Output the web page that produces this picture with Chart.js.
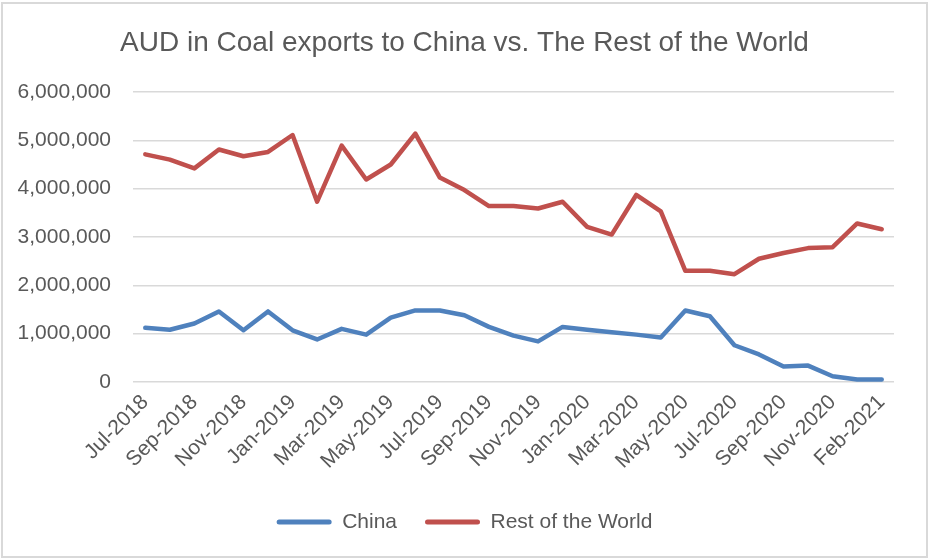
<!DOCTYPE html>
<html>
<head>
<meta charset="utf-8">
<script src="https://cdn.jsdelivr.net/npm/chart.js@4/dist/chart.umd.min.js"></script>
<style>
  html, body { margin: 0; padding: 0; background: #ffffff; }
  #wrap { width: 929px; height: 560px; position: relative; }
  canvas { display: block; }
</style>
</head>
<body>
<div id="wrap"><canvas id="c" width="929" height="560"></canvas></div>
<script>
const categories = [
  "Jul-2018","Aug-2018","Sep-2018","Oct-2018","Nov-2018","Dec-2018",
  "Jan-2019","Feb-2019","Mar-2019","Apr-2019","May-2019","Jun-2019",
  "Jul-2019","Aug-2019","Sep-2019","Oct-2019","Nov-2019","Dec-2019",
  "Jan-2020","Feb-2020","Mar-2020","Apr-2020","May-2020","Jun-2020",
  "Jul-2020","Aug-2020","Sep-2020","Oct-2020","Nov-2020","Dec-2020",
  "Feb-2021"
];
const chinaValues = [
  1120000, 1080000, 1210000, 1460000, 1070000, 1460000,
  1070000, 880000, 1100000, 980000, 1330000, 1480000,
  1480000, 1380000, 1140000, 960000, 840000, 1140000,
  1080000, 1030000, 980000, 920000, 1480000, 1360000,
  760000, 570000, 320000, 340000, 120000, 50000,
  50000
];
const restOfWorldValues = [
  4710000, 4600000, 4420000, 4810000, 4670000, 4760000,
  5110000, 3730000, 4890000, 4190000, 4500000, 5140000,
  4230000, 3970000, 3640000, 3640000, 3590000, 3730000,
  3210000, 3050000, 3870000, 3530000, 2300000, 2300000,
  2230000, 2550000, 2670000, 2770000, 2790000, 3280000,
  3160000
];
const yTicks = [0, 1000000, 2000000, 3000000, 4000000, 5000000, 6000000];
const seriesNames = ["China", "Rest of the World"];
const titleText = "AUD in Coal exports to China vs. The Rest of the World";

const TEXT = "#595959";
const GRID = "#d9d9d9";
const FONT = "'Liberation Sans', Arial, sans-serif";

const borderPlugin = {
  id: "frame",
  afterDraw(chart) {
    const ctx = chart.ctx;
    ctx.save();
    ctx.strokeStyle = GRID;
    ctx.lineWidth = 2;
    ctx.strokeRect(2, 3, 925, 554);
    ctx.restore();
  }
};

new Chart(document.getElementById("c"), {
  type: "line",
  data: {
    labels: categories,
    datasets: [
      {
        label: seriesNames[0],
        data: chinaValues,
        borderColor: "#4f81bd",
        backgroundColor: "#4f81bd",
        borderWidth: 4.5,
        pointRadius: 0,
        pointHoverRadius: 0,
        tension: 0,
        borderJoinStyle: "round",
        borderCapStyle: "round",
        yAxisID: "y"
      },
      {
        label: seriesNames[1],
        data: restOfWorldValues,
        borderColor: "#c0504d",
        backgroundColor: "#c0504d",
        borderWidth: 4.5,
        pointRadius: 0,
        pointHoverRadius: 0,
        tension: 0,
        borderJoinStyle: "round",
        borderCapStyle: "round",
        yAxisID: "y"
      }
    ]
  },
  options: {
    responsive: false,
    animation: false,
    devicePixelRatio: 1,
    layout: { padding: { left: 0, right: 0, top: 0, bottom: 17.5 } },
    plugins: {
      title: {
        display: true,
        text: titleText,
        color: TEXT,
        font: { family: FONT, size: 28, weight: "normal", lineHeight: 1.2 },
        padding: { top: 26.5, bottom: 31.9 }
      },
      legend: {
        display: true,
        position: "bottom",
        labels: {
          color: TEXT,
          font: { family: FONT, size: 21 },
          boxWidth: 55,
          boxHeight: 5,
          padding: 28,
          useBorderRadius: true,
          borderRadius: 2.5,
          generateLabels(chart) {
            const items = Chart.defaults.plugins.legend.labels.generateLabels(chart);
            items.forEach(it => { it.lineWidth = 0; it.strokeStyle = "rgba(0,0,0,0)"; });
            return items;
          }
        }
      },
      tooltip: { enabled: false }
    },
    scales: {
      x: {
        offset: true,
        grid: { display: false, drawTicks: false, offset: true },
        border: { display: false },
        afterFit(scale) { scale.height = 101.5; },
        ticks: {
          autoSkip: false,
          maxRotation: 45,
          minRotation: 45,
          padding: 8,
          color: TEXT,
          font: { family: FONT, size: 21 },
          callback(value, index) {
            return index % 2 === 0 ? categories[index] : "";
          }
        }
      },
      y: {
        position: "left",
        min: 0,
        max: 6000000,
        afterFit(scale) { scale.width = 133; },
        afterBuildTicks(scale) { scale.ticks = yTicks.map(v => ({ value: v })); },
        grid: { color: GRID, lineWidth: 1.5, drawTicks: false },
        border: { display: false },
        ticks: {
          padding: 22,
          color: TEXT,
          font: { family: FONT, size: 21 },
          callback(value) { return Number(value).toLocaleString("en-US"); }
        }
      },
      yRight: {
        position: "right",
        min: 0,
        max: 1,
        afterFit(scale) { scale.width = 35; },
        grid: { display: false, drawTicks: false },
        border: { display: false },
        ticks: { display: false }
      }
    }
  },
  plugins: [borderPlugin]
});
</script>
</body>
</html>
